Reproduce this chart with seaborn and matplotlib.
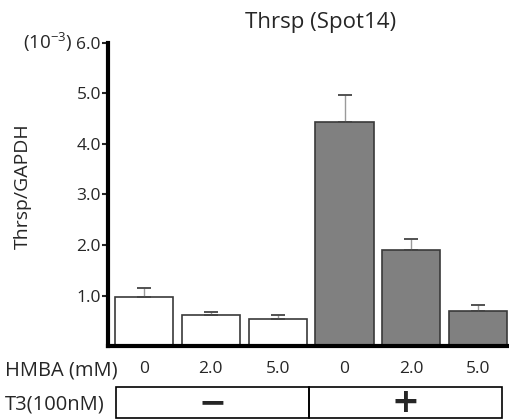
import matplotlib
matplotlib.use('Agg')
import matplotlib.pyplot as plt
import matplotlib.transforms as mtransforms
from matplotlib.patches import Rectangle
import seaborn as sns
import pandas as pd

# data (units of 10^-3)
conditions = ['T3- 0', 'T3- 2.0', 'T3- 5.0', 'T3+ 0', 'T3+ 2.0', 'T3+ 5.0']
hmba_labels = ['0', '2.0', '5.0', '0', '2.0', '5.0']
ratio = [0.98, 0.61, 0.53, 4.43, 1.90, 0.70]
sem = [0.16, 0.06, 0.08, 0.54, 0.21, 0.12]
bar_colors = ['white', 'white', 'white', '#808080', '#808080', '#808080']

df = pd.DataFrame({'cond': conditions, 'ratio': ratio})

sns.set_style('white')
plt.rcParams['font.family'] = ['Open Sans', 'DejaVu Sans']
plt.rcParams['mathtext.fontset'] = 'custom'
plt.rcParams['mathtext.rm'] = 'Open Sans'
plt.rcParams['mathtext.default'] = 'regular'

fig = plt.figure(figsize=(5.09, 4.2), dpi=100)
ax = fig.add_axes([0.212, 0.176, 0.788, 0.722])

sns.barplot(data=df, x='cond', y='ratio', hue='cond', palette=bar_colors,
            order=conditions, hue_order=conditions, legend=False,
            width=0.87, edgecolor='#3a3a3a', linewidth=1.2, ax=ax)

# upper error bars only: light stem, darker cap
_, caps, stems = ax.errorbar(range(len(ratio)), ratio, yerr=[[0] * len(sem), sem],
                             fmt='none', ecolor='#444444', elinewidth=1.0,
                             capsize=5, capthick=1.3, zorder=1)
for s in stems:
    s.set_color('#9a9a9a')

ax.set_xlim(-0.54, 5.46)
ax.set_ylim(0, 6.0)
ax.set_yticks([1, 2, 3, 4, 5, 6])
ax.set_yticklabels(['1.0', '2.0', '3.0', '4.0', '5.0', '6.0'], fontsize=12.5)
ax.tick_params(axis='y', direction='out', length=4, width=1.5, pad=1, left=True)
ax.set_xticks(range(6))
ax.set_xticklabels(hmba_labels, fontsize=12.5)
ax.tick_params(axis='x', length=0, pad=11)
ax.set_xlabel('')
ax.set_ylabel('Thrsp/GAPDH', fontsize=14)
ax.yaxis.set_label_coords(-0.19, 0.528)

sns.despine(ax=ax)
for side in ['left', 'bottom']:
    ax.spines[side].set_linewidth(3)
    ax.spines[side].set_color('black')

ax.set_title('Thrsp (Spot14)', fontsize=16, pad=11, x=0.53)

# (10^-3) marker next to the top tick
ax.text(-0.088, 1.0, r'(10$^{-3}$)', transform=ax.transAxes, ha='right', va='center',
        fontsize=13.5)

# row labels
fig.text(0.01, 0.118, 'HMBA (mM)', ha='left', va='center', fontsize=14.5)
fig.text(0.01, 0.036, 'T3(100nM)', ha='left', va='center', fontsize=14.5)

# T3 box under the bars
trans = mtransforms.blended_transform_factory(ax.transData, ax.transAxes)
box_y0, box_y1 = -0.238, -0.135
for x0, x1, sign in [(-0.42, 2.47, '\u2212'), (2.47, 5.36, '+')]:
    ax.add_patch(Rectangle((x0, box_y0), x1 - x0, box_y1 - box_y0, transform=trans,
                           fill=False, edgecolor='black', linewidth=1.2, clip_on=False))
    ax.text((x0 + x1) / 2, (box_y0 + box_y1) / 2, sign, transform=trans, ha='center',
            va='center', fontsize=24, fontweight='bold', family='DejaVu Sans')

fig.savefig('out.png', dpi=100)
